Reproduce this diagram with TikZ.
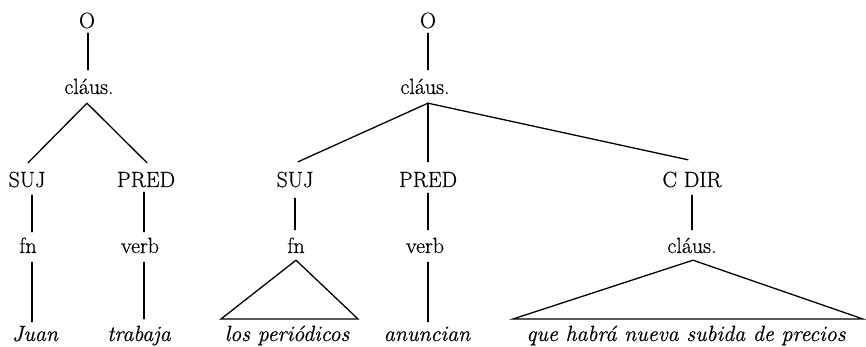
\documentclass[tikz,border=0pt]{standalone}
\usepackage{fontspec}
\usetikzlibrary{calc}
% slightly heavier Latin Modern for the tree labels
\newfontfamily\treefont{Latin Modern Roman}[FakeBold=0.5]
\begin{document}
\begin{tikzpicture}[x=1pt,y=-1pt,
  lbl/.style={anchor=base, inner sep=0pt, text height=15pt, text depth=5pt,
              font=\treefont\fontsize{22}{26}\selectfont},
  word/.style={lbl, font=\treefont\fontsize{22}{26}\selectfont\itshape},
  branch/.style={line width=1.3pt, line cap=round, line join=miter},
]
\useasboundingbox (0,0) rectangle (866,347);

% ---- first tree: Juan trabaja ----
\node[lbl] (o1) at (87,28) {O};
\node[lbl] (c1) at (89,94) {cláus.};
\node[lbl] (s1) at (27,187) {SUJ};
\node[lbl] (p1) at (146,187) {PRED};
\node[lbl] (f1) at (28,253) {fn};
\node[lbl] (v1) at (140,253) {verb};
\node[word] (juan) at (35,341) {Juan};
\node[word] (trab) at (139,341) {trabaja};

\draw[branch] ($(o1.south)+(1,0)$) -- ($(c1.north)+(-1,-9)$);
\draw[branch] ($(s1.north)+(1,-9)$) -- ($(c1.south)+(-2,4)$) -- ($(p1.north)+(1,-9)$);
\draw[branch] ($(s1.south)+(5,3)$) -- ($(f1.north)+(4,-6)$);
\draw[branch] ($(f1.south)+(4,4)$) -- ($(juan.north)+(-3,-4)$);
\draw[branch] ($(p1.south)+(-2,0)$) -- ($(v1.north)+(4,-6)$);
\draw[branch] ($(v1.south)+(4,4)$) -- ($(trab.north)+(5,-7)$);

% ---- second tree: los periódicos anuncian ... ----
\node[lbl] (o2) at (428,28) {O};
\node[lbl] (c2) at (425,94) {cláus.};
\node[lbl] (s2) at (295,187) {SUJ};
\node[lbl] (p2) at (428,187) {PRED};
\node[lbl] (cd) at (692,187) {C DIR};
\node[lbl] (f2) at (296,253) {fn};
\node[lbl] (v2) at (425,253) {verb};
\node[lbl] (c3) at (692,253) {cláus.};
\node[word] (lp) at (287,341) {los periódicos};
\node[word] (an) at (427,341) {anuncian};
\node[word] (qh) at (686,341) {que habrá nueva subida de precios};

\coordinate (t1l) at (221,319);
\coordinate (t1r) at (358,319);
\coordinate (t2l) at (513,319);
\coordinate (t2r) at (863,319);

\draw[branch] (o2.south) -- ($(c2.north)+(3,-9)$);
\draw[branch] ($(c2.south)+(3,4)$) -- ($(s2.north)+(3,-10)$);
\draw[branch] ($(c2.south)+(3,4)$) -- ($(p2.north)+(0,-10)$);
\draw[branch] ($(c2.south)+(3,4)$) -- ($(cd.north)+(-4,-12)$);
\draw[branch] ($(s2.south)+(0,6)$) -- ($(f2.north)+(-1,-8)$);
\draw[branch] ($(p2.south)+(0,1)$) -- ($(v2.north)+(3,-8)$);
\draw[branch] ($(v2.south)+(3,4)$) -- ($(an.north)+(1,-4)$);
\draw[branch] ($(cd.south)+(0,3)$) -- ($(c3.north)+(0,-8)$);

% roof triangles over unanalysed phrases
\draw[branch] ($(f2.south)+(0,2)$) -- (t1l) -- (t1r) -- cycle;
\draw[branch] ($(c3.south)+(1,2)$) -- (t2l) -- (t2r) -- cycle;
\end{tikzpicture}
\end{document}
